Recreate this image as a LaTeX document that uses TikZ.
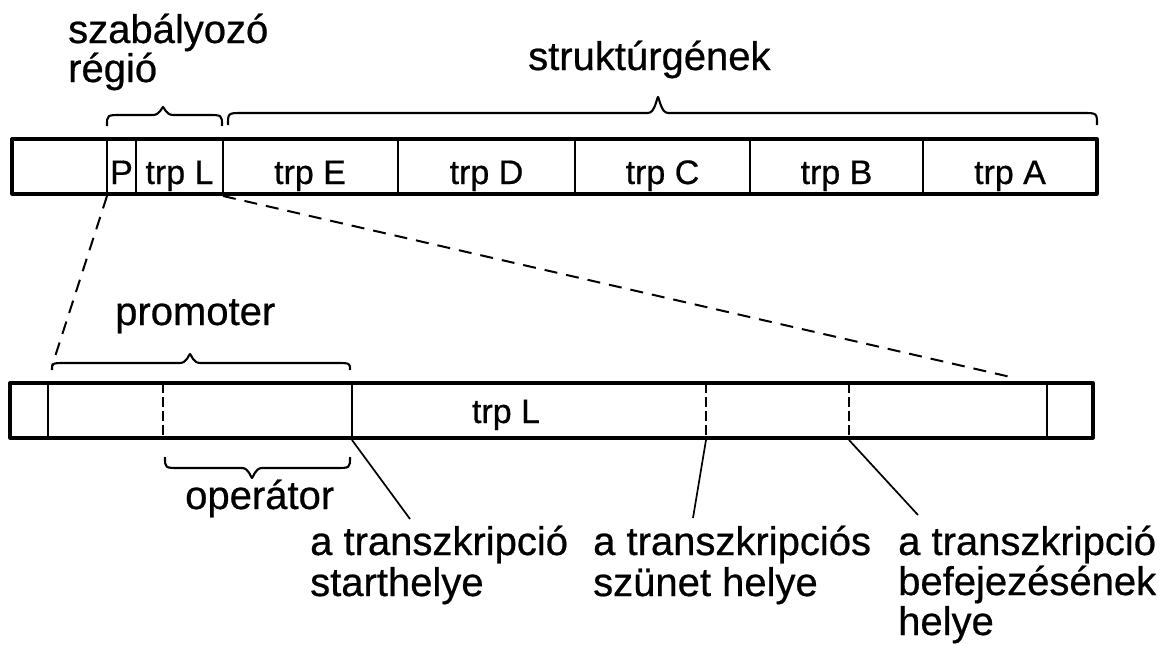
\documentclass[tikz,border=0pt]{standalone}
\usepackage{fontspec}
\setmainfont{Liberation Sans}[FakeBold=0.6]
\newcommand{\gbrace}[6]{%
  \draw[brc] (#1,#4) .. controls (#1,#5) .. (#1+14,#5) -- (#3-10,#5)
    .. controls (#3-3,#5) and (#3-1,#6) .. (#3,#6)
    .. controls (#3+1,#6) and (#3+3,#5) .. (#3+10,#5) -- (#2-14,#5)
    .. controls (#2,#5) .. (#2,#4);}
\begin{document}
\begin{tikzpicture}[x=1pt,y=-1pt,line join=round,
  bar/.style={line width=3.2pt},
  div/.style={line width=2.2pt},
  ddiv/.style={line width=2.2pt,dash pattern=on 10pt off 4pt},
  zoomline/.style={line width=2pt,dash pattern=on 13pt off 9pt},
  lead/.style={line width=1.7pt},
  brc/.style={line width=2.1pt},
  lab/.style={font=\fontsize{40}{40}\selectfont,inner sep=0pt,anchor=base west},
  cell/.style={font=\fontsize{34}{34}\selectfont,inner sep=0pt,anchor=base}]
\useasboundingbox (0,0) rectangle (1168,645);

% headings
\node[lab] (szab) at (68,43) {szabályozó};
\node[lab] (regio) at (68,82) {régió};
\node[lab] (strukt) at (528,70) {struktúrgének};
\gbrace{107}{222}{163}{126}{115}{107}
\gbrace{228}{1097}{658}{125}{113}{97}

% top bar
\draw[bar] (12,139) rectangle (1097,194);
\foreach \x in {107,136,223,398,575,750,923} \draw[div] (\x,139) -- (\x,194);
\node[cell] (P) at (121.5,184) {P};
\node[cell] (trpL) at (179.5,184) {trp L};
\node[cell] (trpE) at (310,184) {trp E};
\node[cell] (trpD) at (486.5,184) {trp D};
\node[cell] (trpC) at (662.5,184) {trp C};
\node[cell] (trpB) at (836.5,184) {trp B};
\node[cell] (trpA) at (1010,184) {trp A};

% zoom lines
\coordinate (zl1) at (107,196);
\coordinate (zl2) at (223,196);
\coordinate (zb1) at (52,366);
\coordinate (zb2) at (1015,378);
\draw[zoomline] (zl1) -- (zb1);
\draw[zoomline] (zl2) -- (zb2);

% promoter brace
\node[lab] (prom) at (115,325) {promoter};
\gbrace{52}{350}{190}{370}{363}{354}

% bottom bar
\draw[bar] (10,383) rectangle (1093,438);
\foreach \x in {48,352,1047} \draw[div] (\x,383) -- (\x,438);
\foreach \x in {163,706,849} \draw[ddiv] (\x,383) -- (\x,438);
\node[cell] (trpLb) at (506,423) {trp L};

% operator brace
\gbrace{165}{350}{252}{457}{468}{478}
\node[lab] (oper) at (185,509) {operátor};

% leaders
\coordinate (s1) at (352,440);
\coordinate (s2) at (706,440);
\coordinate (s3) at (849,440);
\coordinate (e1) at (410,519);
\coordinate (e2) at (693,518);
\coordinate (e3) at (918,515);
\draw[lead] (s1) -- (e1);
\draw[lead] (s2) -- (e2);
\draw[lead] (s3) -- (e3);

\node[lab] (l1a) at (310,555) {a transzkripció};
\node[lab] (l1b) at (310,596) {starthelye};
\node[lab] (l2a) at (593,555) {a transzkripciós};
\node[lab] (l2b) at (593,596) {szünet helye};
\node[lab] (l3a) at (898,555) {a transzkripció};
\node[lab] (l3b) at (898,595) {befejezésének};
\node[lab] (l3c) at (898,635) {helye};
\end{tikzpicture}
\end{document}
